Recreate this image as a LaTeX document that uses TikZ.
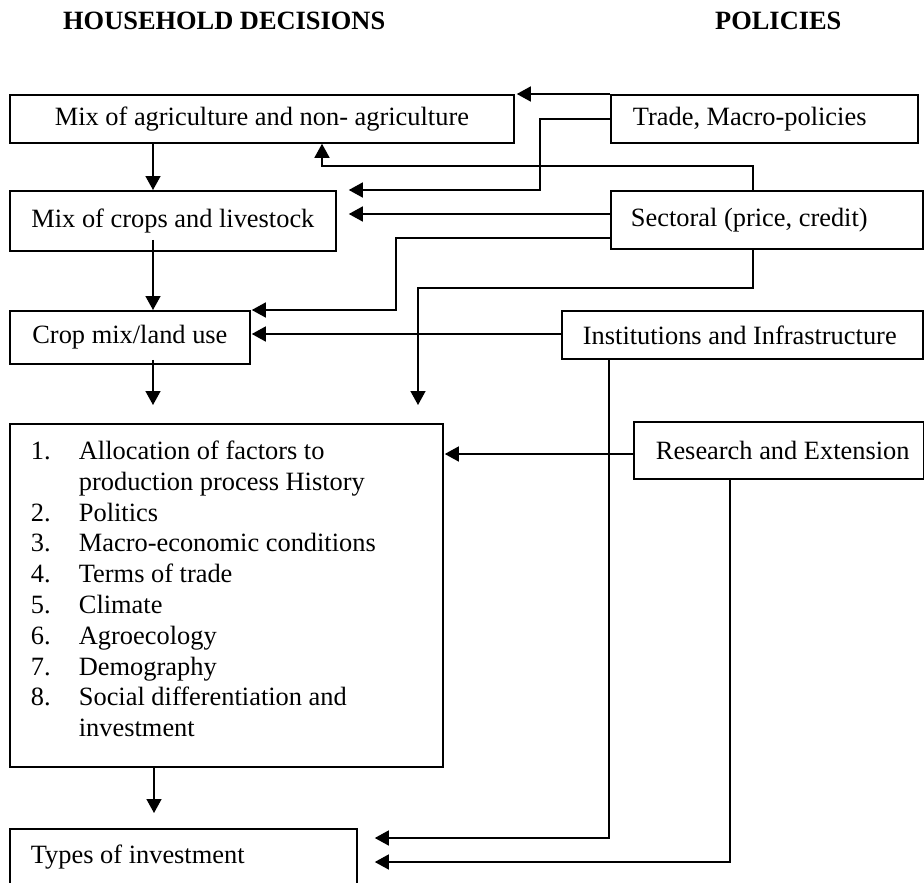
\documentclass[tikz,border=0pt]{standalone}
\usepackage{fontspec}
\setmainfont{Liberation Serif}
\usetikzlibrary{arrows.meta,calc}

\tikzset{
  box/.style={draw, line width=1.8pt, inner sep=0pt, anchor=north west,
              font=\fontsize{26.4}{30.8}\selectfont},
  arr/.style={line width=1.5pt, -{Triangle[length=14pt,width=15pt]}},
  head/.style={anchor=base west, inner sep=0pt,
               font=\fontsize{26.4}{30}\selectfont\bfseries},
}

\begin{document}
\begin{tikzpicture}[x=1pt,y=-1pt]
\useasboundingbox (0,0) rectangle (924,883);
\clip (0,0) rectangle (924,883);

% column headings
\node[head] (hhead) at (63,30) {HOUSEHOLD DECISIONS};
\node[head] (phead) at (715,30) {POLICIES};

% household decision boxes
\node[box, minimum width=504pt, minimum height=48pt] (hh1) at (9,94)
  {Mix of agriculture and non- agriculture};
\node[box, minimum width=326pt, minimum height=60pt] (hh2) at (9,190)
  {Mix of crops and livestock};
\node[box, minimum width=240pt, minimum height=53pt] (hh3) at (9,310)
  {Crop mix/land use};
\node[box] (hh4) at (9,423) {%
  \begin{minipage}[c][343pt][t]{433pt}
  \fontsize{26.4}{30.8}\selectfont
  \vspace*{14pt}\noindent
  \begin{tabular}{@{\hspace{21pt}}p{48pt}@{}l@{}}
  1. & Allocation of factors to\\
     & production process History\\
  2. & Politics\\
  3. & Macro-economic conditions\\
  4. & Terms of trade\\
  5. & Climate\\
  6. & Agroecology\\
  7. & Demography\\
  8. & Social differentiation and\\
     & investment
  \end{tabular}
  \end{minipage}};
\node[box, inner xsep=21pt, inner ysep=9pt, text height=26pt, text depth=60pt]
  (hh5) at (9,828) {\makebox[305pt][l]{Types of investment}};

% policy boxes
\node[box, inner xsep=22pt, minimum height=48pt] (pol1) at (610,94)
  {\makebox[263pt][l]{Trade, Macro-policies}};
\node[box, inner xsep=20pt, minimum height=58pt] (pol2) at (610,190)
  {\makebox[272pt][l]{Sectoral (price, credit)}};
\node[box, inner xsep=21pt, minimum height=48pt] (pol3) at (561,310)
  {\makebox[319pt][l]{Institutions and Infrastructure}};
\node[box, inner xsep=22pt, minimum height=57pt] (pol4) at (633,421)
  {\makebox[246pt][l]{Research and Extension}};

% x position of the household chain
\coordinate (tx) at (153,0);

% household chain
\draw[arr] (hh1.south -| tx) -- (hh2.north -| tx);
\draw[arr] ($(hh2.south -| tx)+(0,-12)$) -- (hh3.north -| tx);
\draw[arr] ($(hh3.south -| tx)+(0,-5)$) -- ($(hh4.north -| tx)+(0,-18)$);
\draw[arr] ($(hh4.south -| tx)+(1,0)$) -- ($(hh5.north -| tx)+(1,-15)$);

% trade and macro-policies
\draw[arr] (pol1.north west) -- ($(hh1.north east)+(2,0)$);
\draw[arr] (pol1.west) -| ($(hh2.north east)+(203,0)$)
  -- ($(hh2.north east)+(12,0)$);

% sectoral policies
\draw[arr] ($(pol2.north west)+(143,0)$) -- ++(0,-24)
  -| ($(hh1.south west)+(313,0)$);
\draw[arr] ($(pol2.north west)+(0,24)$) -- ($(hh2.north east)+(12,24)$);
\draw[arr] ($(pol2.north west)+(0,48)$) -| ($(hh3.north east)+(145,0)$)
  -- ($(hh3.north east)+(1,0)$);
\draw[arr] ($(pol2.south west)+(143,0)$) -- ++(0,38)
  -| ($(hh4.north west)+(409,-18)$);

% institutions and infrastructure
\draw[arr] ($(pol3.north west)+(0,24)$) -- ($(hh3.north east)+(1,24)$);
\draw[arr] ($(pol3.south west)+(48,0)$) |- ($(hh5.north east)+(17,10)$);

% research and extension
\draw[arr] ($(pol4.north west)+(0,33)$) -- ($(hh4.north east)+(1,31)$);
\draw[arr] ($(pol4.south west)+(97,0)$) |- ($(hh5.north east)+(17,34)$);
\end{tikzpicture}
\end{document}
